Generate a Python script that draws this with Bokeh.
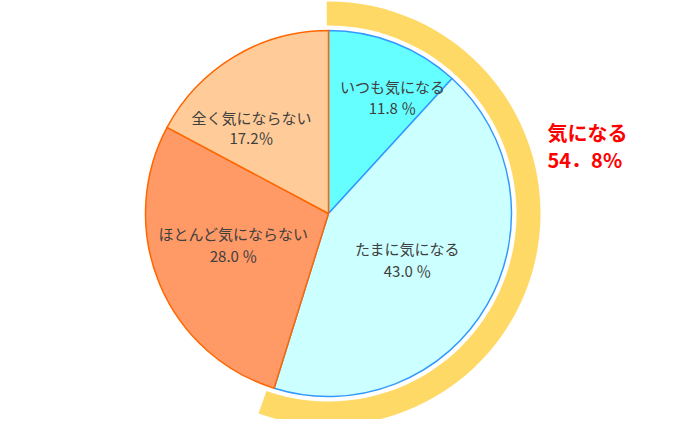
import numpy as np
from bokeh.plotting import figure
from bokeh.models import Range1d
from bokeh.core.properties import value
from bokeh.embed import file_html
from bokeh.resources import INLINE

# ---- data ----
categories = ["いつも気になる", "たまに気になる", "ほとんど気にならない", "全く気にならない"]
shares = [11.8, 43.0, 28.0, 17.2]
pct_labels = ["11.8 ％", "43.0 ％", "28.0 ％", "17.2％"]
ring_share = 54.8
ring_label = ["気になる", "54．8%"]

# ---- styles ----
fills = ["#66FFFF", "#CCFFFF", "#FF9966", "#FFCC99"]
borders = ["#3399FF", "#3399FF", "#FF6600", "#FF6600"]
ring_color = "#FFD966"
ring_overshoot_deg = (0.5, 2.0)   # decorative extension of the bracket ring
FONT = "Noto Sans CJK JP"

W, H = 684, 419
p = figure(width=W, height=H, output_backend="svg", toolbar_location=None,
           x_range=Range1d(0, W), y_range=Range1d(435 - H, 435),
           min_border=0, outline_line_color=None)
p.axis.visible = False
p.grid.visible = False
p.background_fill_color = "white"
p.border_fill_color = "white"

cx, cy = 328, 435 - 213
R = 183

# outer ring for "気になる"
ring_start = np.pi / 2 + np.radians(ring_overshoot_deg[0])
ring_end = np.pi / 2 - 2 * np.pi * ring_share / 100.0 - np.radians(ring_overshoot_deg[1])
p.annular_wedge(x=cx, y=cy, inner_radius=188, outer_radius=212,
                start_angle=ring_start, end_angle=ring_end, direction="clock",
                fill_color=ring_color, line_color=None)

# pie slices
fr = np.array(shares) / sum(shares)
cum = np.concatenate([[0], np.cumsum(fr)])
starts = np.pi / 2 - 2 * np.pi * cum[:-1]
ends = np.pi / 2 - 2 * np.pi * cum[1:]
for s, e, f, b in zip(starts, ends, fills, borders):
    p.wedge(x=cx, y=cy, radius=R, start_angle=s, end_angle=e, direction="clock",
            fill_color=f, line_color=b, line_width=1.5)

# slice labels (pixel layout positions)
label_xy = [(392, 86, 107), (407, 248, 270), (233, 233, 255), (251, 117, 137)]
for name, pct, (lx, y1, y2) in zip(categories, pct_labels, label_xy):
    p.text(x=[lx], y=[435 - y1], text=[name], text_align="center",
           text_baseline="middle", text_font=value(FONT),
           text_font_size="15px", text_color="#404040")
    p.text(x=[lx], y=[435 - y2], text=[pct], text_align="center",
           text_baseline="middle", text_font=value(FONT),
           text_font_size="15px", text_color="#404040")

# ring label
p.text(x=[547, 547], y=[435 - 132, 435 - 159], text=ring_label,
       text_align="left", text_baseline="middle", text_font=value(FONT),
       text_font_size="20px", text_font_style="bold", text_color="#FF0000")

open("out.html", "w").write(file_html(p, INLINE))
